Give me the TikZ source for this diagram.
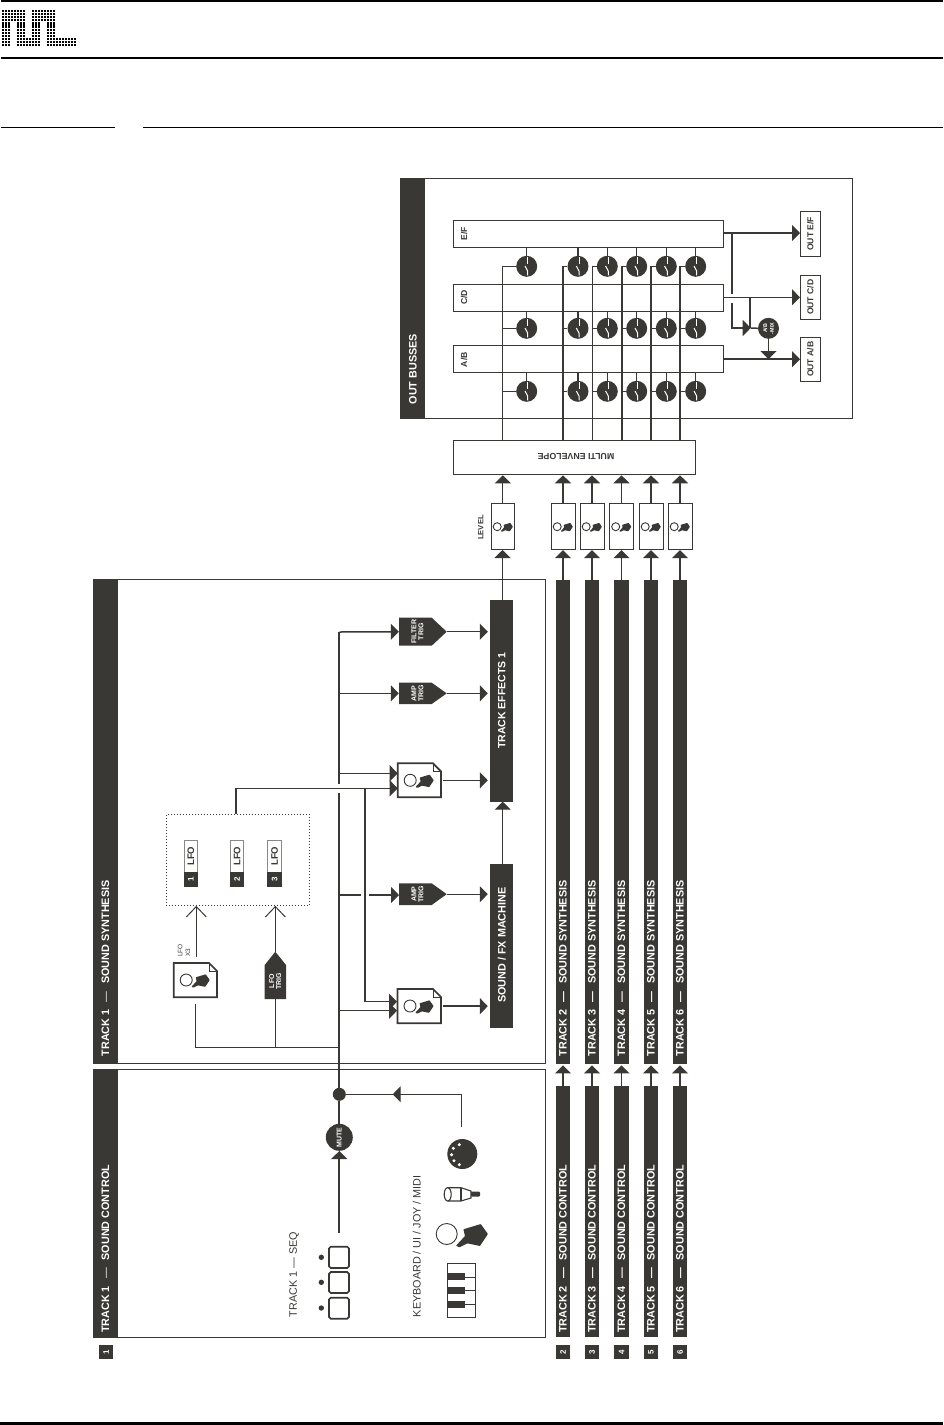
\documentclass[tikz,border=0pt]{standalone}
\usepackage{fontspec}
\setmainfont{Liberation Sans}
\usetikzlibrary{arrows.meta,calc}
\definecolor{dk}{HTML}{393835}
\newcommand\fs[1]{\fontsize{#1}{#1}\selectfont}
\newcommand\bx[7][]{\node[#1,minimum width={((#5)-(#3))*1pt},minimum height={((#6)-(#4))*1pt}] (#2) at ({((#3)+(#5))/2},{((#4)+(#6))/2}) {#7};}
\newcommand\handicon[3]{\begin{scope}[shift={(#1,#2)},scale=#3]
\draw[dk,line width=0.9pt] (0,0) circle [radius=1];
\fill[dk,rounded corners=0.5pt] (0.89,1.11) -- (1.74,.19) -- (1.59,-.45) -- (3.24,-.95) -- (3.93,0) -- (3.17,1.14) -- (1.97,.89) -- (1.21,1.27) -- cycle;
\end{scope}}
\newcommand\docicon[5]{\bx[inner sep=0pt]{#1}{#2}{#3}{#4}{#5}{}
\draw[dk,line width=1.7pt,fill=white,line join=miter] (#2,#3) -- ({#4-8},#3) -- (#4,{#3+8}) -- (#4,#5) -- (#2,#5) -- cycle;
\draw[dk,line width=0.8pt] ({#4-8},#3) -- ({#4-8},{#3+8}) -- (#4,{#3+8});
\handicon{{#2+12.5}}{{#3+17}}{6}}
\newcommand\trig[7]{\bx[inner sep=0pt]{#1}{#2}{#3}{#4}{#5}{}
\fill[dk] (#2,#3) -- ({#4-15},#3) -- (#4,{(#3+#5)/2}) -- ({#4-15},#5) -- (#2,#5) -- cycle;
\node[bt,font=\bfseries\fs{7},align=center,rotate=90] (#1t) at ({#2+18.5},{(#3+#5)/2}) {#6\\#7};}
\newcommand\logoblock[4]{\foreach \i in {#1,...,#2}{\foreach \j in {#3,...,#4}{\fill[black] ({1.7+3*\i},{9.9+3.1*\j}) rectangle ++(2.2,2.2);}}}
\newcommand\dsp{\hspace{4.5pt}}
\tikzset{
 x=1pt,y=-1pt,
 bt/.style={text=white,font=\bfseries,inner sep=0pt},
 dkbar/.style={fill=dk,inner sep=0pt},
 panel/.style={draw=dk,line width=1pt,inner sep=0pt},
 wbox/.style={draw=dk,line width=1pt,fill=white,inner sep=0pt},
 ln/.style={dk,line width=1.5pt},
 tn/.style={dk,line width=1pt},
 ar/.style={-{Triangle[length=8pt,width=16pt]}},
 barb/.style={-{Straight Barb[length=10.5pt,width=20pt]}},
 lab/.style={text=dk,font=\bfseries\fs{8.6},inner sep=0pt},
 sw/.style={circle,fill=dk,minimum size=21pt,inner sep=0pt},
}
\begin{document}
\begin{tikzpicture}
\useasboundingbox (0,0) rectangle (943,1425);
% page furniture
\draw[black,line width=2.2pt] (1,1) -- (943,1);
\draw[black,line width=2.3pt] (1,57.8) -- (943,57.8);
\draw[black,line width=1.6pt] (1,127.5) -- (115,127.5);
\draw[black,line width=1.6pt] (143.3,127.5) -- (943,127.5);
\draw[black,line width=2.4pt] (0,1423.6) -- (943,1423.6);
\logoblock{0}{7}{0}{3}
\logoblock{10}{17}{0}{3}
\logoblock{0}{2}{4}{11}
\logoblock{5}{7}{4}{8}
\logoblock{10}{12}{4}{8}
\logoblock{15}{17}{4}{8}
\logoblock{5}{12}{9}{11}
\logoblock{15}{24}{9}{11}
% panels
\bx[panel]{pout}{400}{178.5}{852.5}{418}{}
\bx[dkbar]{pouts}{400}{178}{425}{418.5}{}
\node[bt,font=\bfseries\fs{10.8},rotate=90,anchor=west] (tout) at (413,404.5) {OUT BUSSES};
\bx[panel]{psyn}{93}{579}{545}{1063.3}{}
\bx[dkbar]{psyns}{93}{578.5}{118}{1064}{}
\node[bt,font=\bfseries\fs{10.8},rotate=90,anchor=west] (tsyn) at (105.5,1056.5) {TRACK 1\dsp{} {\mdseries —}\dsp{} SOUND SYNTHESIS};
\bx[panel]{pctl}{93}{1069.5}{545}{1337}{}
\bx[dkbar]{pctls}{93}{1069}{118}{1337.5}{}
\node[bt,font=\bfseries\fs{10.8},rotate=90,anchor=west] (tctl) at (105.5,1333) {TRACK 1\dsp{} {\mdseries —}\dsp{} SOUND CONTROL};
\bx[dkbar]{num1}{99}{1345}{113}{1359}{}
\node[bt,font=\bfseries\fs{8},rotate=90] (numt1) at (num1) {1};
% busses
\bx[wbox]{ef}{453.5}{220.5}{723}{247}{}
\bx[wbox]{cd}{453.5}{284.5}{723}{311.5}{}
\bx[wbox]{ab}{453.5}{345.5}{723}{372}{}
\node[lab,rotate=90,anchor=west] (tef) at (464,240.7) {E/F};
\node[lab,rotate=90,anchor=west] (tcd) at (464,305) {C/D};
\node[lab,rotate=90,anchor=west] (tab) at (464,367.3) {A/B};
\bx[wbox]{oef}{800.5}{211.5}{820}{256}{}
\bx[wbox]{ocd}{800.5}{275.5}{820}{319}{}
\bx[wbox]{oab}{800.5}{337.5}{820}{381}{}
\node[lab,rotate=90] (toef) at (oef) {OUT E/F};
\node[lab,rotate=90] (tocd) at (ocd) {OUT C/D};
\node[lab,rotate=90] (toab) at (oab) {OUT A/B};
% envelope
\bx[wbox]{env}{453.5}{440}{695.5}{474}{}
\node[lab,rotate=180,font=\bfseries\fs{8.8}] (tenv) at (576,457) {MULTI ENVELOPE};
% switches
\foreach \c/\x/\ix in {1/526.7/502.5,2/578/563,3/607.3/592.5,4/636.7/622,5/666.3/651,6/695.7/680}{
 \foreach \r/\y/\b in {1/266.3/ef,2/328.3/cd,3/391.3/ab}{
  \node[sw] (s\c\r) at (\x,\y) {};
  \draw[ln,line width=1.1pt] (\b.south -| s\c\r) -- (s\c\r.north);
  \draw[white,line width=1pt] ([shift={(1,-9)}]s\c\r.center) -- ([shift={(1,-2)}]s\c\r.center);
  \draw[white,line width=1pt] ([shift={(-1.7,-0.3)}]s\c\r.center) -- ([shift={(1,4.7)}]s\c\r.center) -- ([shift={(1,9)}]s\c\r.center);
  \ifnum\r=1\relax
   \draw[ln,line width=1.5pt] (\ix,440) |- (s\c\r.west);
  \else
   \draw[ln,line width=1.5pt] (\ix,\y) -- (s\c\r.west);
  \fi
 }
}
% out connectors
\coordinate (jef) at (732,233);
\coordinate (jefa) at (732,293.5);
\coordinate (jefb) at (732,302.5);
\coordinate (mixin) at (750.7,328);
\coordinate (jcd) at (750,297.3);
\node[circle,fill=dk,minimum size=21pt,inner sep=0pt,text=white,font=\bfseries\fs{5.4},align=center] (mix) at (768.5,328.3) {\rotatebox{90}{\shortstack{A/B\\-MIX}}};
\draw[ln,line width=1.9pt,ar] (ef.east |- jef) -- (oef.west |- jef);
\draw[tn,ar] (cd.east |- jcd) -- (ocd.west |- jcd);
\draw[ln,line width=1.9pt,ar] (ab.east |- oab) -- (oab.west);
\draw[ln,line width=1.9pt] (jef) -- (jefa);
\draw[ln,line width=1.9pt,ar] (jefb) |- (mixin);
\draw[ln,line width=1.2pt] (jcd) -- (750,328.3);
\draw[ln] (mixin) -- (mix.west);
\coordinate (abm) at (768.5,359);
\draw[ln,ar] (mix.south) -- (abm);
% tracks 2-6
\foreach \n/\x in {2/563,3/592,4/621.5,5/651,6/680}{
 \bx[dkbar]{bar\n}{\x-7.2}{580}{\x+7.2}{1063.7}{}
 \bx[dkbar]{barl\n}{\x-7.2}{1086}{\x+7.2}{1337}{}
 \bx[dkbar]{num\n}{\x-7.2}{1345}{\x+7.2}{1359}{}
 \node[bt,font=\bfseries\fs{8},rotate=90] (numt\n) at (num\n) {\n};
 \node[bt,font=\bfseries\fs{10.8},rotate=90,anchor=west] (tb\n) at (\x,1056.5) {TRACK \n\dsp{} —\dsp{} SOUND SYNTHESIS};
 \node[bt,font=\bfseries\fs{10.8},rotate=90,anchor=west] (tbl\n) at (\x,1333) {TRACK \n\dsp{} —\dsp{} SOUND CONTROL};
 \bx[wbox]{lev\n}{\x-12}{503.3}{\x+12}{549.7}{}
 \handicon{{\x-5.8}}{526.7}{4}
 \draw[ln,ar] (barl\n.north) -- ([yshift=-1.5pt]bar\n.south);
 \draw[ln,ar] (bar\n.north) -- (lev\n.south);
 \draw[ln,ar] (lev\n.north) -- ([yshift=-0.8pt]lev\n.north |- env.south);
}
% track 1 chain
\bx[dkbar]{tfx}{490}{600}{513}{801.7}{}
\node[bt,font=\bfseries\fs{10.5},rotate=90] (ttfx) at (501.7,700.7) {TRACK EFFECTS 1};
\bx[dkbar]{sfx}{490}{864}{513}{1028.3}{}
\node[bt,font=\bfseries\fs{10.8},rotate=90] (tsfx) at (501.7,945) {SOUND / FX MACHINE};
\bx[wbox]{lev1}{491}{503.3}{514.6}{549.7}{}
\handicon{497.2}{526.7}{4}
\node[lab,rotate=90,font=\bfseries\fs{7.6}] (tlev) at (480.7,527.5) {LEVEL};
\draw[tn,ar] (502.5,600) -- (502.5,550);
\draw[tn,ar] (lev1.north) -- ([yshift=-0.8pt]lev1.north |- env.south);
\draw[tn,ar] (502.7,864) -- (502.7,801.7);
% triggers
\trig{filt}{399}{617.7}{446.7}{645.7}{FILTER}{TRIG}
\trig{amp}{399}{682.7}{446.7}{704}{AMP}{TRIG}
\trig{amps}{399}{883.3}{446.7}{905}{AMP}{TRIG}
\docicon{doca}{397.7}{763.3}{441}{797.3}
\docicon{docb}{397.5}{989}{441}{1023.3}
\draw[ln,ar,shorten >=2pt] (filt.east) -- (filt.east -| tfx.west);
\draw[tn,ar,shorten >=2pt] (amp.east) -- (amp.east -| tfx.west);
\draw[ln,ar,shorten >=2pt,shorten <=1.5pt] (doca.east) -- (doca.east -| tfx.west);
\draw[tn,ar,shorten >=2pt] (amps.east) -- (amps.east -| sfx.west);
\draw[ln,ar,shorten >=2pt,shorten <=1.5pt] (docb.east) -- (docb.east -| sfx.west);
% seq and mute
\node[circle,fill=dk,minimum size=27pt,inner sep=0pt,text=white,font=\bfseries\fs{7}] (mute) at (339.3,1137.3) {\rotatebox{90}{MUTE}};
\node[circle,fill=dk,minimum size=13pt,inner sep=0pt] (jn) at (339.3,1094.3) {};
\coordinate (seqtop) at (339.3,1232.7);
\coordinate (up1) at (339.3,792.5);
\coordinate (up2) at (339.3,783.5);
\coordinate (top) at (339.3,632);
\draw[ln,line width=1.7pt,ar] (seqtop) -- (mute.south);
\draw[ln,line width=1.7pt] (mute.north) -- (jn.south);
\draw[ln,line width=1.7pt] (jn.north) -- (up1);
\draw[ln,line width=1.7pt] (up2) -- (top);
\draw[ln,ar] (top) -- (filt.west);
\draw[tn,ar] (top |- amp.west) -- (amp.west);
\coordinate (da1) at (397.7,773.3);
\coordinate (da2) at (397.7,788.3);
\coordinate (db1) at (397,1001.7);
\coordinate (db2) at (397,1010.7);
\coordinate (dbl) at (236,814.3);
\draw[ln,ar] (top |- da1) -- (da1);
\draw[ln,ar] (dbl) |- (da2);
\draw[ln,ar] (365,788.3) |- (db1);
\draw[ln,ar] (top |- db2) -- (db2);
\coordinate (gapa) at (361,895);
\coordinate (gapb) at (369,895);
\draw[ln] (top |- gapa) -- (gapa);
\draw[ln,ar] (gapb) -- (399,895);
% lfo
\bx[draw=dk,dotted,line width=1pt,inner sep=0pt]{lfobox}{166.3}{814.3}{309.7}{905.3}{}
\foreach \n/\x in {1/190.8,2/237,3/274.5}{
 \bx[draw=dk!60,line width=0.9pt,fill=white,inner sep=0pt]{lfo\n}{\x-6.7}{840.5}{\x+6.7}{872}{}
 \bx[dkbar]{lfon\n}{\x-7.2}{872}{\x+7.2}{886.7}{}
 \node[text=dk,font=\bfseries\fs{9.5},rotate=90,inner sep=0pt] (lfot\n) at (lfo\n) {LFO};
 \node[bt,font=\bfseries\fs{8},rotate=90] (lfoc\n) at (lfon\n) {\n};
}
\docicon{docl}{173.7}{963}{217}{997.3}
\node[text=dk,font=\fs{6.5},rotate=90,anchor=west,align=left,inner sep=0pt] (tlfox) at (184,957) {LFO\\[1.2pt]X3};
\coordinate (lfos) at (196.3,956.7);
\draw[tn,barb] (lfos) -- (lfos |- lfobox.south);
\bx[inner sep=0pt]{ltrig}{264.7}{951.7}{286}{999}{}
\fill[dk] (264.7,999) -- (264.7,965) -- (275.3,951.7) -- (286,965) -- (286,999) -- cycle;
\node[bt,font=\bfseries\fs{7},align=center,rotate=90] (ltrigt) at (275.3,981) {LFO\\TRIG};
\draw[tn,barb] (ltrig.north) -- (ltrig.north |- lfobox.south);
\coordinate (lb) at (195.7,1004);
\coordinate (lc) at (339.3,1047.3);
\draw[ln] (lb) |- (lc);
\draw[tn] (ltrig.south) -- (ltrig.south |- lc);
% inputs
\coordinate (midit) at (461.7,1127.3);
\coordinate (miditr) at (392.7,1094.3);
\draw[tn] (midit) |- (400,1094.3);
\draw[tn] (jn.east) -- (400,1094.3);
\draw[tn,ar] (400.5,1094.3) -- (miditr);
% midi
\node[circle,fill=dk,minimum size=30pt,inner sep=0pt] (midi) at (462.3,1154) {};
\foreach \a/\b in {-3/-9.3,-9/-5.7,-10.7/0.7,-8.3/6.7,-3/10.7}
 \fill[white] ([shift={(\a,\b)}]midi.center) circle [radius=1.7];
% joystick
\draw[dk,line width=1.1pt] (447.5,1187.7) -- (461,1187.7) -- (471,1191) -- (471,1198) -- (461,1201) -- (447.5,1201);
\draw[dk,line width=1.1pt] (461,1187.7) -- (461,1201);
\draw[dk,line width=1.1pt] (447.7,1194.3) ellipse [x radius=3.5,y radius=6.7];
\fill[dk,rounded corners=1pt] (471,1191.7) rectangle (480,1196.7);
\handicon{446.7}{1234}{10.5}
% keyboard
\bx[draw=dk,line width=1.2pt,fill=white,inner sep=0pt]{keys}{447.3}{1263.3}{475.7}{1317.3}{}
\foreach \a/\b in {1272.7/1277,1286.7/1290.7,1300.7/1304.3}{
 \fill[dk] (447.3,\a) rectangle (465,\a+7.4);
 \draw[dk,line width=0.7pt] (465,\b) -- (475.7,\b);
}
% seq buttons
\foreach \n/\a/\b/\d in {1/1246.7/1268/1257.3,2/1272/1293/1282.3,3/1297.7/1318.7/1308}{
 \draw[dk,line width=1.7pt,rounded corners=1.8pt] (329,\a) rectangle (349,\b);
 \fill[dk] (321.3,\d) circle [radius=2.7];
}
\node[text=dk,font=\fs{10.8},rotate=90,anchor=west,inner sep=0pt] (tseq) at (294,1317.3) {TRACK 1 — SEQ};
\node[text=dk,font=\fs{10.8},rotate=90,anchor=west,inner sep=0pt] (tkey) at (416.7,1317.3) {KEYBOARD / UI / JOY / MIDI};
\end{tikzpicture}
\end{document}
